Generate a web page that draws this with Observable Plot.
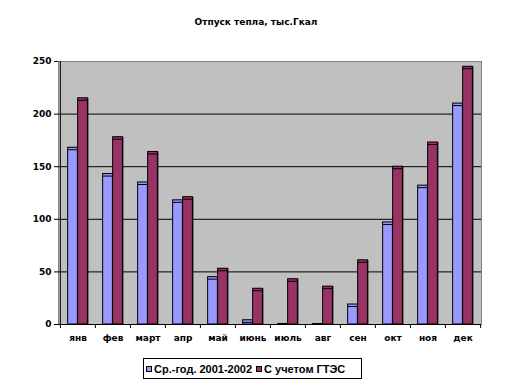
<!DOCTYPE html>
<html>
<head>
<meta charset="utf-8">
<script src="https://cdn.jsdelivr.net/npm/d3@7"></script>
<script src="https://cdn.jsdelivr.net/npm/@observablehq/plot@0.6"></script>
<style>
  html, body { margin: 0; padding: 0; background: #fff; }
  #wrap { position: relative; width: 512px; height: 392px; overflow: hidden; }
  #title { position: absolute; left: 0; width: 512px; top: 17px; text-align: center; padding-left: 0px;
           font: bold 9px "DejaVu Sans", sans-serif; color: #000; }
  #chart { position: absolute; left: 0; top: 0; }
  #legend { position: absolute; left: 143px; top: 358px; width: 217px; height: 19px; border: 1px solid #000;
            font: bold 11px "Liberation Sans", Arial, sans-serif; color: #000; white-space: nowrap;
            display: flex; align-items: center; }
  .sw { display: inline-block; width: 4px; height: 4px; border: 1px solid #000; margin: 0 2px 0 2px; }
</style>
</head>
<body>
<div id="wrap">
  <div id="title">Отпуск тепла, тыс.Гкал</div>
  <div id="chart"></div>
  <div id="legend"></div>
</div>
<script>
const months = ["янв","фев","март","апр","май","июнь","июль","авг","сен","окт","ноя","дек"];
const avgValues = [168, 143, 135, 118, 45, 4, 0.5, 0.5, 19, 97, 132, 210];
const gtesValues = [215, 178, 164, 121, 53, 34, 43, 36, 61, 150, 173, 245];
const yTicks = [0, 50, 100, 150, 200, 250];
const gridValues = [50, 100, 150, 200];
const seriesNames = ["Ср.-год. 2001-2002", "С учетом ГТЭС"];
const seriesColors = ["#9999FF", "#993366"];

const data = months.map((m, i) => ({month: m, avg: avgValues[i], gtes: gtesValues[i]}));

const W = 512, H = 392;
const mL = 58, mR = 31, mT = 61, mB = 68;
const bw = (W - mL - mR) / months.length;
const barW = 10;
const off = (bw - 2 * barW) / 2;

const series = [
  {key: "avg", color: seriesColors[0], insetLeft: off, insetRight: bw - off - barW},
  {key: "gtes", color: seriesColors[1], insetLeft: off + barW, insetRight: off}
];

const marks = [
  Plot.frame({fill: "#C0C0C0", stroke: "#808080"}),
  Plot.ruleY(gridValues, {stroke: "#000", strokeWidth: 1})
];
for (const s of series) {
  marks.push(Plot.barY(data, {x: "month", y: s.key, fill: "#000", dx: 1, insetLeft: s.insetLeft, insetRight: s.insetRight}));
}
for (const s of series) {
  marks.push(Plot.barY(data, {x: "month", y: s.key, fill: s.color, stroke: "#000", strokeWidth: 1, insetLeft: s.insetLeft, insetRight: s.insetRight}));
  marks.push(Plot.tickY(data.filter(d => d[s.key] > 2), {x: "month", y: s.key, stroke: "#000", strokeWidth: 1, dy: 2, insetLeft: s.insetLeft, insetRight: s.insetRight}));
}
marks.push(
  Plot.ruleY([0], {stroke: "#000", strokeWidth: 1}),
  Plot.ruleX([months[0]], {dx: -bw / 2, stroke: "#000", strokeWidth: 1}),
  Plot.ruleX(months, {dx: -bw / 2, y1: d => 0, y2: d => 0, insetBottom: -4, stroke: "#000"}),
  Plot.ruleX([months[months.length - 1]], {dx: bw / 2, y1: d => 0, y2: d => 0, insetBottom: -4, stroke: "#000"})
);

const chart = Plot.plot({
  width: W, height: H,
  marginLeft: mL, marginRight: mR, marginTop: mT, marginBottom: mB,
  style: {fontFamily: "DejaVu Sans, sans-serif", fontWeight: "bold", fontSize: "9px", background: "transparent", color: "#000"},
  x: {domain: months, padding: 0, label: null, tickSize: 0, tickPadding: 10},
  y: {domain: [0, 250], ticks: yTicks, tickSize: 4, tickPadding: 3, label: null, tickFormat: d => String(d)},
  marks
});
document.getElementById("chart").appendChild(chart);

const legend = document.getElementById("legend");
seriesNames.forEach((name, i) => {
  const sw = document.createElement("span");
  sw.className = "sw";
  sw.style.background = seriesColors[i];
  if (i > 0) sw.style.marginLeft = "4px";
  legend.appendChild(sw);
  const t = document.createElement("span");
  t.textContent = name;
  legend.appendChild(t);
});
</script>
</body>
</html>
